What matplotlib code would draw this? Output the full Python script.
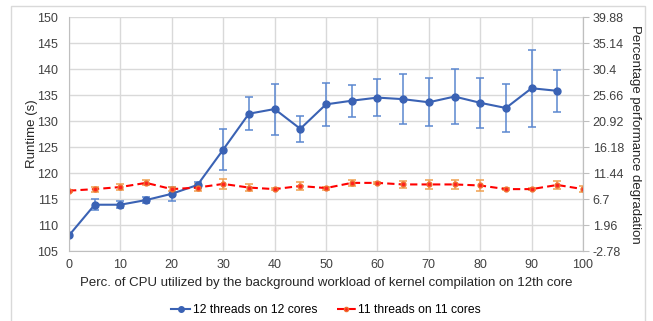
import matplotlib
matplotlib.use('Agg')
import matplotlib.pyplot as plt
from matplotlib.patches import Rectangle
from matplotlib.lines import Line2D

plt.rcParams['font.family'] = ['Liberation Sans', 'DejaVu Sans']

# background workload (% CPU on 12th core)
x_vals = [0, 5, 10, 15, 20, 25, 30, 35, 40, 45, 50, 55, 60, 65, 70, 75, 80, 85, 90, 95, 100]

# 12 threads on 12 cores (no point at 100)
x12 = x_vals[:-1]
rt12 = [108.0, 113.9, 113.9, 114.8, 116.0, 117.7, 124.5, 131.4, 132.3, 128.5, 133.2,
        133.9, 134.5, 134.2, 133.6, 134.7, 133.5, 132.5, 136.3, 135.8]
err12 = [0.3, 1.1, 0.7, 0.5, 1.3, 0.6, 4.0, 3.2, 4.9, 2.5, 4.1,
         3.1, 3.6, 4.8, 4.6, 5.3, 4.8, 4.7, 7.4, 4.1]

# 11 threads on 11 cores
rt11 = [116.6, 116.9, 117.3, 118.1, 116.9, 117.2, 117.9, 117.2, 116.9, 117.5, 117.1,
        118.1, 118.1, 117.8, 117.8, 117.8, 117.6, 116.9, 116.9, 117.7, 116.9]
err11 = [0.2, 0.5, 0.6, 0.5, 0.4, 0.6, 1.0, 0.6, 0.2, 0.8, 0.3,
         0.6, 0.2, 0.6, 0.8, 0.9, 1.0, 0.2, 0.2, 0.8, 0.6]

right_ticks = ['-2.78', '1.96', '6.7', '11.44', '16.18', '20.92', '25.66', '30.4', '35.14', '39.88']

fig = plt.figure(figsize=(6.53, 3.21), dpi=100)
ax = fig.add_axes([69 / 653, 1 - 251 / 321, (583 - 69) / 653, (251 - 17) / 321])

grid_c = '#D9D9D9'
ax.set_xlim(0, 100)
ax.set_ylim(105, 150)
ax.set_xticks(range(0, 101, 10))
ax.set_yticks(range(105, 151, 5))
ax.grid(True, color=grid_c, linewidth=1.0)
ax.set_axisbelow(True)
ax.spines['top'].set_visible(False)
for s in ['left', 'bottom', 'right']:
    ax.spines[s].set_color('#BFBFBF')
ax.tick_params(axis='x', length=0, labelsize=9, colors='#404040', pad=6)
ax.tick_params(axis='y', length=0, labelsize=9, colors='#404040', pad=8)

blue = '#3A62B4'
red = '#FF0000'
ax.errorbar(x12, rt12, yerr=err12, color=blue, ecolor='#5B87D0', elinewidth=1.1,
            capsize=3, capthick=1.1, marker='o', markersize=5, linewidth=1.5)
ax.errorbar(x_vals, rt11, yerr=err11, color=red, ecolor='#F0A050', elinewidth=1.1,
            capsize=3, capthick=1.1, marker='o', markersize=3.5, markerfacecolor='#FF2020',
            markeredgecolor='#F07030', linewidth=1.5, linestyle=(0, (3.5, 2)))

ax.set_ylabel('Runtime (s)', fontsize=9.5, color='#262626')
ax.yaxis.set_label_coords(-0.061, 0.5)
ax.set_xlabel('Perc. of CPU utilized by the background workload of kernel compilation on 12th core',
              fontsize=9.5, color='#262626', labelpad=4)

ax2 = ax.twinx()
ax2.set_ylim(105, 150)
ax2.set_yticks(range(105, 151, 5))
ax2.set_yticklabels(right_ticks)
for s in ['top', 'left', 'bottom']:
    ax2.spines[s].set_visible(False)
ax2.spines['right'].set_color('#BFBFBF')
ax2.tick_params(axis='y', length=4, color='#BFBFBF', labelsize=9, labelcolor='#404040', pad=3)
ax2.set_ylabel('Percentage performance degradation', fontsize=9.5, color='#262626',
               rotation=270, labelpad=12)

handles = [
    Line2D([], [], color=blue, marker='o', markersize=4, linewidth=1.5),
    Line2D([], [], color=red, marker='o', markersize=3, markerfacecolor='#FF2020',
           markeredgecolor='#F07030', linewidth=1.5, linestyle=(0, (3.5, 2))),
]
ax.legend(handles, ['12 threads on 12 cores', '11 threads on 11 cores'],
          loc='center', bbox_to_anchor=(0.5, -0.252), ncol=2, frameon=False,
          fontsize=8.7, handlelength=1.6, columnspacing=1.6, handletextpad=0.2)

fig.patches.append(Rectangle((11 / 653, -0.02), (645 - 11) / 653, 1 - 6 / 321 + 0.02,
                             transform=fig.transFigure, fill=False,
                             edgecolor='#D9D9D9', linewidth=1.0))

fig.savefig('out.png', dpi=100)
